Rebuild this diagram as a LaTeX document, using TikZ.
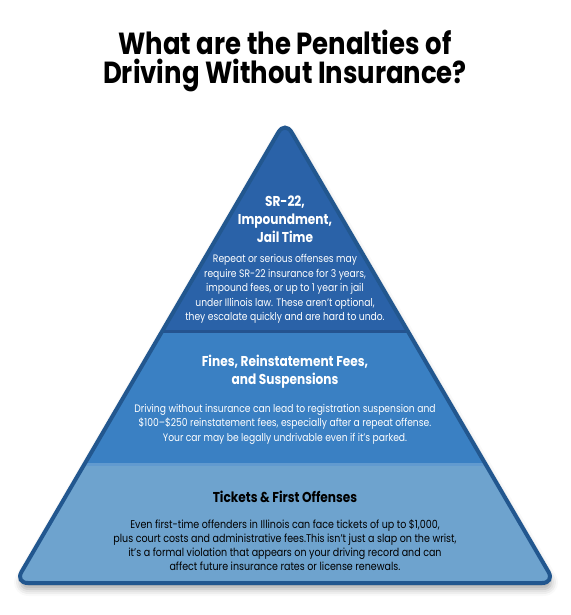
\documentclass[tikz,border=0pt]{standalone}
\usepackage{fontspec}
\setmainfont{Poppins}[FakeStretch=0.85]
\usepackage{tikz}
\usetikzlibrary{
  calc,%
  % soft shadow under the pyramid
  shadows.blur,%
  positioning
}
\definecolor{tiertop}{HTML}{2A62A8}
\definecolor{tiermid}{HTML}{3A80C3}
\definecolor{tierbot}{HTML}{6EA3CE}
\definecolor{tierline}{HTML}{22578F}
\tikzset{font=\normalsize}
\tikzset{
  headline/.style={align=center, font=\fontsize{30.5}{29}\selectfont\bfseries},
  tierhead/.style={align=center, text=white, font=\fontsize{14.3}{18}\selectfont\bfseries},
  tiertext/.style={align=center, text=white, font=\fontsize{10.8}{14.4}\selectfont},
  pyramid/.style={rounded corners=13pt}
}

\begin{document}
\begin{tikzpicture}[x=1pt, y=-1pt]
  \useasboundingbox (0,0) rectangle (570,615);
  % corners of the pyramid
  \coordinate (apex) at (285,121);
  \coordinate (bl) at (15,583);
  \coordinate (br) at (555,583);
  \node[headline] (title) at (285,61) {What are the Penalties of\\Driving Without Insurance?};
  % shadow
  \fill[pyramid, white, blur shadow={shadow xshift=1pt, shadow yshift=-6pt,
    shadow blur radius=7pt, shadow opacity=35}] (apex) -- (br) -- (bl) -- cycle;
  \begin{scope}
    \clip[pyramid] (apex) -- (br) -- (bl) -- cycle;
    \fill[tierbot] (0,463) rectangle (570,615);
    \fill[tiermid] (0,333) rectangle (570,463);
    \fill[tiertop] (0,100) rectangle (570,333);
    \draw[tiertop!85!black, line width=3pt] (0,331.5) -- (570,331.5);
    \draw[tiermid!80!white, line width=3pt] (0,464.5) -- (570,464.5);
  \end{scope}
  \draw[pyramid, tierline, line width=4pt] (apex) -- (br) -- (bl) -- cycle;
  % top tier
  \node[tierhead] (tophead) at (285,219) {SR-22,\\Impoundment,\\Jail Time};
  \node[tiertext] (toptext) at (285,289) {Repeat or serious offenses may\\
    require SR-22 insurance for 3 years,\\impound fees, or up to 1 year in jail\\
    under Illinois law. These aren't optional,\\they escalate quickly and are hard to undo.};
  % middle tier
  \node[tierhead] (midhead) at (285,372) {Fines, Reinstatement Fees,\\and Suspensions};
  \node[tiertext] (midtext) at (285,424) {Driving without insurance can lead to registration suspension and\\
    \$100--\$250 reinstatement fees, especially after a repeat offense.\\
    Your car may be legally undrivable even if it's parked.};
  % bottom tier
  \node[tierhead, text=black] (bothead) at (285,497) {Tickets \& First Offenses};
  \node[tiertext, text=black, font=\fontsize{11.2}{14.2}\selectfont] (bottext) at (285,545)
    {Even first-time offenders in Illinois can face tickets of up to \$1,000,\\
    plus court costs and administrative fees.This isn't just a slap on the wrist,\\
    it's a formal violation that appears on your driving record and can\\
    affect future insurance rates or license renewals.};
\end{tikzpicture}
\end{document}
